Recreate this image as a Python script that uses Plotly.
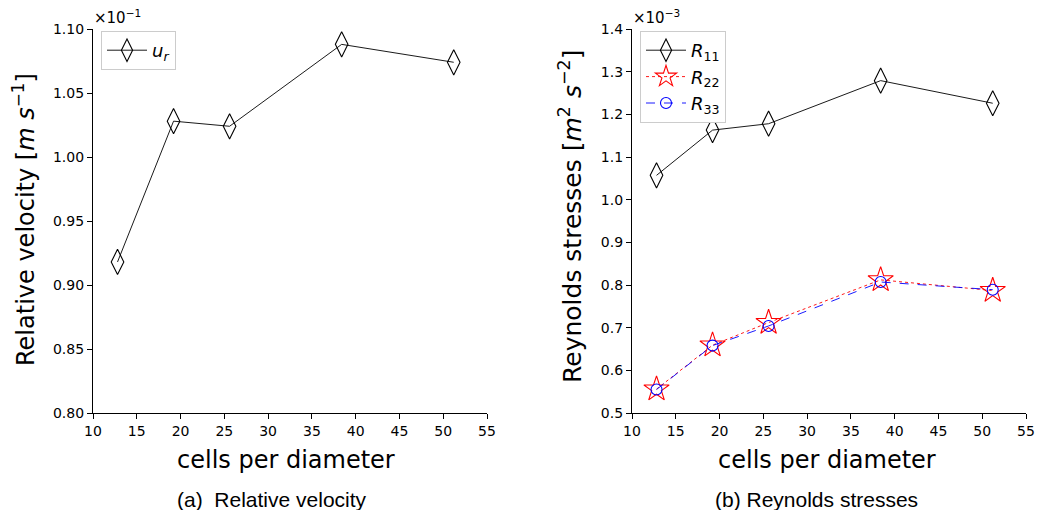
import plotly.graph_objects as go

cells = [12.8, 19.2, 25.6, 38.4, 51.2]
u_r = [0.918, 1.028, 1.024, 1.088, 1.074]          # x 10^-1 m/s
R11 = [1.057, 1.163, 1.178, 1.279, 1.226]          # x 10^-3
R22 = [0.556, 0.659, 0.712, 0.812, 0.787]
R33 = [0.555, 0.658, 0.704, 0.807, 0.789]

left_yticks = [0.80, 0.85, 0.90, 0.95, 1.00, 1.05, 1.10]
right_yticks = [0.5, 0.6, 0.7, 0.8, 0.9, 1.0, 1.1, 1.2, 1.3, 1.4]
xticks = [10, 15, 20, 25, 30, 35, 40, 45, 50, 55]

W, H = 1037, 510
FONT = "DejaVu Sans"
CAP_FONT = "Liberation Sans"

def px_x(p):
    return p / W

def px_y(p):
    return 1 - p / H

fig = go.Figure()

fig.add_trace(go.Scatter(
    x=cells, y=u_r, mode="lines+markers", name="<i>u<sub>r</sub></i>",
    line=dict(color="black", width=0.9),
    marker=dict(symbol="diamond-tall-open", size=18, color="black", line=dict(width=1.1)),
    xaxis="x", yaxis="y", legend="legend"))

fig.add_trace(go.Scatter(
    x=cells, y=R11, mode="lines+markers", name="<i>R</i><sub>11</sub>",
    line=dict(color="black", width=0.9),
    marker=dict(symbol="diamond-tall-open", size=18, color="black", line=dict(width=1.1)),
    xaxis="x2", yaxis="y2", legend="legend2"))
fig.add_trace(go.Scatter(
    x=cells, y=R22, mode="lines+markers", name="<i>R</i><sub>22</sub>",
    line=dict(color="red", width=0.9, dash="dot"),
    marker=dict(symbol="star-open", size=19, color="red", line=dict(width=1.1)),
    xaxis="x2", yaxis="y2", legend="legend2"))
fig.add_trace(go.Scatter(
    x=cells, y=R33, mode="lines+markers", name="<i>R</i><sub>33</sub>",
    line=dict(color="blue", width=0.9, dash="dash"),
    marker=dict(symbol="circle-open", size=11, color="blue", line=dict(width=1.1)),
    xaxis="x2", yaxis="y2", legend="legend2"))

ydom = [px_y(413), px_y(29)]
axis_common = dict(showline=True, linecolor="black", linewidth=1.2, ticks="outside",
                   ticklen=5, tickwidth=1.2, tickcolor="black", showgrid=False,
                   zeroline=False, mirror=False, automargin=False,
                   tickfont=dict(family=FONT, size=14, color="black"))

legend_common = dict(xanchor="left", yanchor="top", bgcolor="white",
                     bordercolor="#cccccc", borderwidth=1,
                     font=dict(family=FONT, size=18), itemwidth=40)

fig.update_layout(
    width=W, height=H, margin=dict(l=0, r=0, t=0, b=0, autoexpand=False),
    plot_bgcolor="white", paper_bgcolor="white", showlegend=True,
    font=dict(family=FONT, color="black"),
    xaxis=dict(domain=[px_x(93), px_x(487)], range=[10, 55], tickvals=xticks,
               anchor="y", **axis_common),
    yaxis=dict(domain=ydom, range=[0.80, 1.10], tickvals=left_yticks,
               tickformat=".2f", anchor="x", **axis_common),
    xaxis2=dict(domain=[px_x(632), px_x(1026)], range=[10, 55], tickvals=xticks,
                anchor="y2", **axis_common),
    yaxis2=dict(domain=ydom, range=[0.5, 1.4], tickvals=right_yticks,
                tickformat=".1f", anchor="x2", **axis_common),
    legend=dict(x=px_x(101), y=px_y(31), **legend_common),
    legend2=dict(x=px_x(640), y=px_y(31), **legend_common),
)

def note(text, x, y, size, font=FONT, angle=0, xanchor="center"):
    return dict(text=text, x=px_x(x), y=px_y(y), xref="paper", yref="paper",
                xanchor=xanchor, yanchor="middle", textangle=angle, showarrow=False,
                font=dict(family=font, size=size, color="black"))

ann = [
    note("×10<sup>−1</sup>", 92, 17, 15, xanchor="left"),
    note("×10<sup>−3</sup>", 631, 17, 15, xanchor="left"),
    note("Relative velocity [<i>m</i> <i>s</i><sup>−1</sup>]", 24, 220, 24, angle=-90),
    note("Reynolds stresses [<i>m</i><sup>2</sup> <i>s</i><sup>−2</sup>]", 570, 216, 25, angle=-90),
    note("cells per diameter", 286, 460, 24),
    note("cells per diameter", 827, 460, 24),
    note("(a)  Relative velocity", 272, 499, 21, font=CAP_FONT),
    note("(b) Reynolds stresses", 816, 499, 21, font=CAP_FONT),
]
fig.update_layout(annotations=ann)

fig.write_html("out.html")
